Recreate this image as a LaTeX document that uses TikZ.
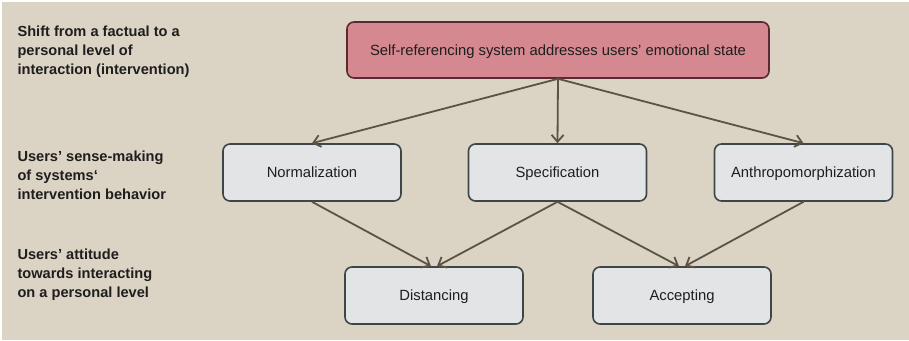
\documentclass[tikz,border=0pt]{standalone}
\usepackage{fontspec}
\setmainfont{Liberation Sans}
\usetikzlibrary{arrows.meta}
\definecolor{bgbeige}{HTML}{DBD3C4}
\definecolor{boxfill}{HTML}{E3E4E6}
\definecolor{boxline}{HTML}{3E4748}
\definecolor{topfill}{HTML}{D5888F}
\definecolor{topline}{HTML}{5B2931}
\definecolor{arrowcol}{HTML}{5B5344}
\definecolor{txt}{HTML}{1E1E1E}

\begin{document}
\begin{tikzpicture}[x=1pt, y=-1pt,
    box/.style={draw=boxline, fill=boxfill, rounded corners=7pt, line width=1.6pt,
        minimum width=178pt, minimum height=57pt, text=txt, text height=13pt, text depth=3pt,
        font=\fontsize{14.8}{17}\selectfont},
    topbox/.style={box, draw=topline, fill=topfill, minimum width=422pt, minimum height=56pt},
    lvl/.style={anchor=west, align=left, text=txt, font=\bfseries\fontsize{14.6}{19}\selectfont},
    arr/.style={draw=arrowcol, line width=1.8pt, -{Straight Barb[length=7pt,width=12pt]}}]
    % background
    \fill[white] (0,0) rectangle (909,340);
    \fill[bgbeige] (1.5,1.5) rectangle (909,340);
    \useasboundingbox (0,0) rectangle (909,340);

    % levels on the left
    \node[lvl] (lvlA) at (14,52) {Shift from a factual to a\\personal level of\\interaction (intervention)};
    \node[lvl] (lvlB) at (14,175) {Users’ sense-making\\of systems‘\\intervention behavior};
    \node[lvl] (lvlC) at (14,275) {Users’ attitude\\towards interacting\\on a personal level};

    % boxes
    \node[topbox] (self) at (558,50) {Self-referencing system addresses users’ emotional state};
    \node[box] (norm) at (312,172.5) {Normalization};
    \node[box] (spec) at (557.5,172.5) {Specification};
    \node[box] (anth) at (803.5,172.5) {Anthropomorphization};
    \node[box] (dist) at (434,295.5) {Distancing};
    \node[box] (acc) at (682,295.5) {Accepting};

    % intervention -> sense-making
    \draw[arr] (self.south) -- (norm.north);
    \draw[arr] (self.south) -- (spec.north);
    \draw[arr] (self.south) -- (anth.north);

    % sense-making -> attitude
    \draw[arr] (norm.south) -- ([xshift=-3pt]dist.north);
    \draw[arr] (spec.south) -- ([xshift=3pt]dist.north);
    \draw[arr] (spec.south) -- ([xshift=-3pt]acc.north);
    \draw[arr] (anth.south) -- ([xshift=3pt]acc.north);
\end{tikzpicture}
\end{document}
